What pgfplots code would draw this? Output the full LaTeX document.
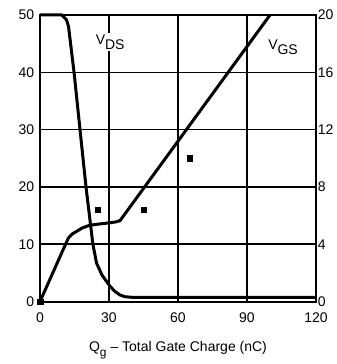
\documentclass[border=0pt]{standalone}
\usepackage{pgfplots}
\pgfplotsset{compat=1.18}
\usepackage{fontspec}
\setmainfont{Liberation Sans}
\begin{document}
\fontsize{14}{16}\selectfont
\begin{tikzpicture}
\begin{axis}[name=main, scale only axis, width=276pt, height=286.6pt,
  xmin=0, xmax=120, ymin=0, ymax=50,
  xtick={0,30,...,120}, ytick={0,10,...,50},
  grid=major, grid style={black, line width=1.6pt},
  axis line style={line width=1.8pt},
  major tick length=0pt,
  tick label style={font=\fontsize{14}{16}\selectfont},
  /pgf/number format/assume math mode=true,
  xticklabel style={yshift=-6pt},
  yticklabel style={xshift=-1pt},
  xlabel={Q\raisebox{-0.35em}{\fontsize{12}{14}\selectfont g} – Total Gate Charge (nC)},
  xlabel style={at={(axis description cs:0.5,0)}, anchor=center, yshift=-49pt, font=\fontsize{14}{16}\selectfont},
  clip=false]
\addplot[black, line width=3pt, line join=round] coordinates {
(0,50) (9.5,50) (11.5,49.2) (12.4,48) (14.8,40) (17.4,30) (20,20) (23,10) (24.6,6.7) (27,4.6) (30.4,2.7) (32.5,1.8) (34.8,1.15) (37,0.85) (40,0.75) (120,0.75)};
\addplot[only marks, mark=square*, mark size=2.8pt, black] coordinates {(0,0) (25,16) (45,16) (65,25)};
\node[anchor=west, fill=white, inner sep=1.5pt, font=\fontsize{14}{16}\selectfont] at (axis cs:23.5,45.3) {V\raisebox{-0.38em}{DS}};
\node[anchor=west, inner sep=1.5pt, font=\fontsize{14}{16}\selectfont] at (axis cs:98.5,44.4) {V\raisebox{-0.38em}{GS}};
\end{axis}
\begin{axis}[scale only axis, width=276pt, height=286.6pt,
  at={(main.south west)}, anchor=south west,
  xmin=0, xmax=120, ymin=0, ymax=20,
  axis x line=none, axis y line*=right,
  ytick={0,4,...,20},
  axis line style={line width=1.8pt},
  major tick length=0pt,
  tick label style={font=\fontsize{14}{16}\selectfont},
  /pgf/number format/assume math mode=true,
  yticklabel style={xshift=-3pt},
  clip=false]
\addplot[black, line width=3pt, line join=round] coordinates {
(0,0) (12.3,4.43) (14,4.72) (15.9,4.9) (18.5,5.15) (21.7,5.33) (26,5.42) (30.4,5.5) (33,5.56) (34.8,5.65) (100,20)};
\end{axis}
\pgfresetboundingbox
\path ([shift={(-40pt,-62.4pt)}]main.south west) rectangle ([shift={(21pt,15pt)}]main.north east);
\end{tikzpicture}
\end{document}
